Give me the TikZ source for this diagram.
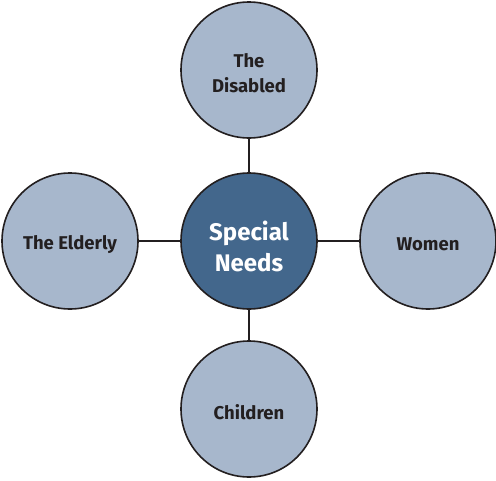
\documentclass[tikz,border=0pt]{standalone}
\usepackage{fontspec}
\setmainfont{Fira Sans}
\definecolor{outerfill}{HTML}{A7B7CC}
\definecolor{innerfill}{HTML}{43678C}
\definecolor{ink}{HTML}{231F20}
\begin{document}
\begin{tikzpicture}[x=1pt,y=-1pt,
  bubble/.style={circle,draw=ink,line width=1.6pt,minimum size=136pt,inner sep=0pt,fill=outerfill},
  hub/.style={bubble,fill=innerfill},
  otxt/.style={align=center,inner sep=0pt,yshift=-3.5pt,font=\fontsize{18.5}{25}\selectfont\bfseries,text=ink},
  htxt/.style={align=center,inner sep=0pt,yshift=-5pt,font=\fontsize{24}{31}\selectfont\bfseries,text=white},
  link/.style={draw=ink,line width=1.6pt}]
\useasboundingbox (0,0) rectangle (496,480);
\node[hub,label={[htxt]center:{Special\\Needs}}] (c) at (249,241) {};
\node[bubble,label={[otxt]center:{The\\Disabled}}] (t) at (249,70) {};
\node[bubble,label={[otxt]center:{Children}}] (b) at (249,409) {};
\node[bubble,label={[otxt]center:{The Elderly}}] (l) at (70,241) {};
\node[bubble,label={[otxt]center:{Women}}] (r) at (428,241) {};
\draw[link] (c) -- (t);
\draw[link] (c) -- (b);
\draw[link] (c) -- (l);
\draw[link] (c) -- (r);
\end{tikzpicture}
\end{document}
